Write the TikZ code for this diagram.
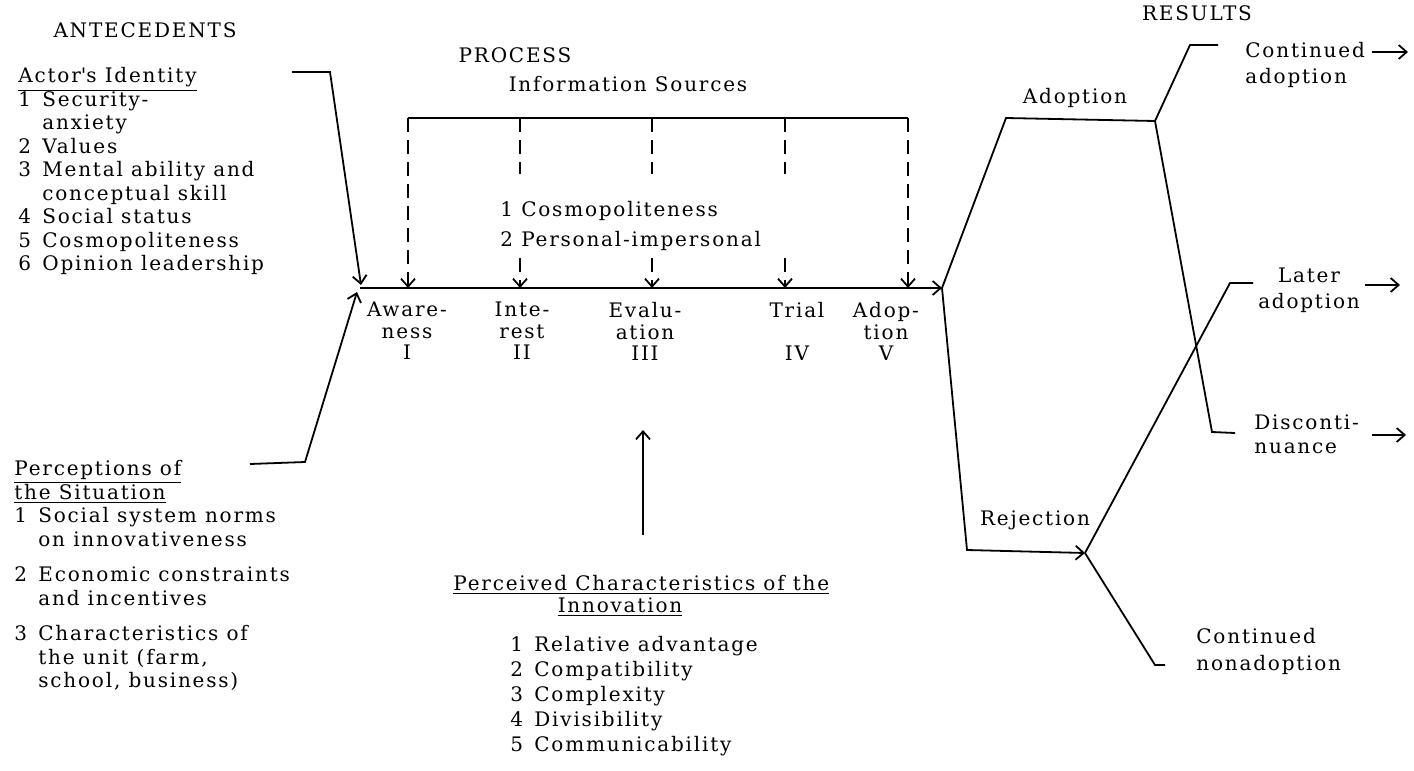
\documentclass[tikz,border=0pt]{standalone}
\usepackage{fontspec}
\setmainfont{DejaVu Serif}[LetterSpace=9]
\usetikzlibrary{arrows.meta, positioning, calc}

\newcommand{\itm}[1]{\makebox[12pt][l]{#1}}

\begin{document}
\begin{tikzpicture}[
                x=0.5pt, y=-0.5pt,
                txt/.style={inner sep=0pt, align=left, anchor=base west, font=\fontsize{10}{11.75}\selectfont},
                lbl/.style={txt, align=center, anchor=base},
                block/.style={txt, anchor=north west},
                cblock/.style={txt, align=center, anchor=north},
                stage/.style={cblock, font=\fontsize{10}{10.75}\selectfont},
                link/.style={line width=0.9pt},
                arrow/.style={line width=0.9pt, ->, >={Straight Barb[length=4pt, width=7pt]}},
                infoline/.style={line width=0.9pt, dash pattern=on 7pt off 4pt},
                infoarrow/.style={infoline, ->, >={Straight Barb[length=4pt, width=7pt]}}
            ]
                \useasboundingbox (0,0) rectangle (1414,771);

                % Headings
                \node (antec) [lbl] at (145,37) {ANTECEDENTS};
                \node (proc) [lbl] at (515,62) {PROCESS};
                \node (res) [lbl] at (1197,20) {RESULTS};

                % Antecedents
                \node (actor) [txt] at (18,83) {\underline{Actor\textquotesingle s Identity}};
                \node (actorlist) [block] at (18,91) {\itm{1}Security-\\ \itm{}anxiety\\ \itm{2}Values\\ \itm{3}Mental ability and\\ \itm{}conceptual skill\\ \itm{4}Social status\\ \itm{5}Cosmopoliteness\\ \itm{6}Opinion leadership};
                \node (percep) [block] at (14,460) {\underline{Perceptions of}\\ \underline{the Situation}\\ \itm{1}Social system norms\\ \itm{}on innovativeness\\[6pt] \itm{2}Economic constraints\\ \itm{}and incentives\\[6pt] \itm{3}Characteristics of\\ \itm{}the unit (farm,\\ \itm{}school, business)};

                % Process
                \node (infosrc) [lbl] at (628,91) {Information Sources};
                \node (infolist) [block] at (500,201) {1 Cosmopoliteness\\[3pt] 2 Personal-impersonal};
                \node (aware) [stage] at (407,302) {Aware-\\ness\\I};
                \node (interest) [stage] at (522,302) {Inte-\\rest\\II};
                \node (evaluation) [stage] at (645,302) {Evalu-\\ation\\III};
                \node (trial) [stage] at (797,302) {Trial\\ \mbox{}\\IV};
                \node (adoptstage) [stage] at (886,302) {Adop-\\tion\\V};

                % Perceived characteristics
                \node (perceived) [txt] at (453,590) {\underline{Perceived Characteristics of the}};
                \node (innov) [lbl] at (620,612) {\underline{Innovation}};
                \node (charlist) [block, font=\fontsize{10}{12.5}\selectfont] at (510,636) {\itm{1}Relative advantage\\ \itm{2}Compatibility\\ \itm{3}Complexity\\ \itm{4}Divisibility\\ \itm{5}Communicability};

                % Results
                \node (adoption) [lbl] at (1075,103) {Adoption};
                \node (rejection) [lbl] at (1035,525) {Rejection};
                \node (contadopt) [block] at (1245,42) {Continued\\[1.25pt] adoption};
                \node (later) [cblock] at (1309,268) {Later\\[1.25pt] adoption};
                \node (discont) [block] at (1254,414) {Disconti-\\[0.5pt] nuance};
                \node (nonadopt) [block] at (1196,628) {Continued\\[1.75pt] nonadoption};

                % Corners
                \coordinate (actorA) at (292,72);
                \coordinate (actorB) at (330,72);
                \coordinate (actorC) at (361,285);
                \coordinate (percA) at (250,464);
                \coordinate (percB) at (305,462);
                \coordinate (percC) at (357,292);
                \coordinate (mainstart) at (360,288);
                \coordinate (mainend) at (942,288);
                \coordinate (charA) at (643,535);
                \coordinate (charB) at (643,430);
                \coordinate (adoptL) at (1006,118);
                \coordinate (adoptR) at (1155,121);
                \coordinate (contC) at (1190,45);
                \coordinate (contE) at (1218,45);
                \coordinate (discC) at (1212,432);
                \coordinate (discE) at (1235,433);
                \coordinate (rejC) at (967,550);
                \coordinate (rejE) at (1085,553);
                \coordinate (laterC) at (1230,283);
                \coordinate (laterE) at (1253,283);
                \coordinate (nonC) at (1155,665);
                \coordinate (nonE) at (1165,665);

                % Arrows
                \draw [arrow] (actorA) -- (actorB) -- (actorC);
                \draw [arrow] (percA) -- (percB) -- (percC);
                \draw [arrow] (mainstart) -- (mainend);
                \draw [arrow] (charA) -- (charB);

                % Information sources bracket
                \foreach \name/\x in {s1/408, s2/520, s3/652, s4/785, s5/908} {
                    \coordinate (top\name) at (\x,118);
                    \coordinate (hit\name) at (\x,288);
                }
                \draw [link] (tops1) -- (tops5);
                \draw [infoarrow] (tops1) -- (hits1);
                \draw [infoarrow] (tops5) -- (hits5);
                \foreach \name in {s2, s3, s4} {
                    \draw [infoline] (top\name) -- ($(top\name)+(0,56)$);
                    \draw [infoarrow] ($(hit\name)+(0,-30)$) -- (hit\name);
                }

                % Results branches
                \draw [link] (mainend) -- (adoptL) -- (adoptR) -- (contC) -- (contE);
                \draw [link] (adoptR) -- (discC) -- (discE);
                \draw [arrow] (mainend) -- (rejC) -- (rejE);
                \draw [link] (rejE) -- (laterC) -- (laterE);
                \draw [link] (rejE) -- (nonC) -- (nonE);
                \foreach \name/\xa/\xb/\y in {ca/1372/1408/52, la/1365/1400/285, dc/1372/1406/435} {
                    \coordinate (\name in) at (\xa,\y);
                    \coordinate (\name out) at (\xb,\y);
                    \draw [arrow] (\name in) -- (\name out);
                }
            \end{tikzpicture}
\end{document}
